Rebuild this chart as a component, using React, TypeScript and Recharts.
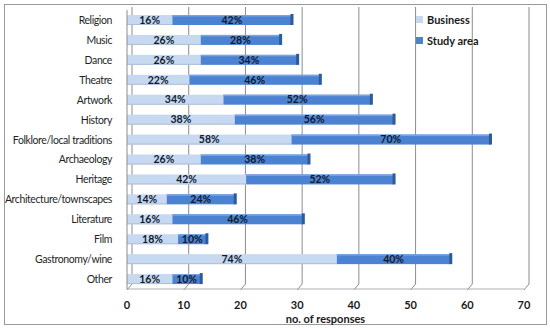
import React from 'react';
import { BarChart, Bar, XAxis, YAxis, CartesianGrid, LabelList } from 'recharts';

const categories = [
  'Religion',
  'Music',
  'Dance',
  'Theatre',
  'Artwork',
  'History',
  'Folklore/local traditions',
  'Archaeology',
  'Heritage',
  'Architecture/townscapes',
  'Literature',
  'Film',
  'Gastronomy/wine',
  'Other'
];
const businessCounts = [8, 13, 13, 11, 17, 19, 29, 13, 21, 7, 8, 9, 37, 8];
const studyAreaCounts = [21, 14, 17, 23, 26, 28, 35, 19, 26, 12, 23, 5, 20, 5];
const businessPct = [16, 26, 26, 22, 34, 38, 58, 26, 42, 14, 16, 18, 74, 16];
const studyAreaPct = [42, 28, 34, 46, 52, 56, 70, 38, 52, 24, 46, 10, 40, 10];
const xTicks = [0, 10, 20, 30, 40, 50, 60, 70];
const seriesNames = ['Business', 'Study area'];

const LIGHT = '#c6d9f1';
const DARK = '#4c82d2';
const FONT = 'Lato, "Open Sans", sans-serif';

const data = categories.map((name, i) => ({
  name,
  business: businessCounts[i],
  studyArea: studyAreaCounts[i],
  businessPct: businessPct[i],
  studyAreaPct: studyAreaPct[i]
}));

// light segment with a faint shaded underside
const PlainBar = (props: any) => {
  const { x, y, width, height, fill } = props;
  return (
    <g>
      <rect x={x} y={y} width={width} height={height} fill={fill} />
      <rect x={x} y={y + height - 1} width={width} height={1} fill="#aebfd6" />
    </g>
  );
};

// bar with a darker end cap, mimics the 3d look of the original
const CappedBar = (props: any) => {
  const { x, y, width, height, fill } = props;
  return (
    <g>
      <rect x={x} y={y} width={width} height={height} fill={fill} />
      <rect x={x} y={y} width={width} height={1.5} fill="#7aa3e0" />
      <rect x={x + width - 1} y={y - 1} width={3} height={height + 1} fill="#2d5a99" />
    </g>
  );
};

// back-wall gridlines, shifted right and dropped diagonally to the front axis
const gridLine = (props: any) => {
  const { x1, y1, y2, key } = props;
  return (
    <path
      key={key}
      d={`M${x1 + 5},${y1 - 3} L${x1 + 5},${y2 - 5} L${x1},${y2 + 1}`}
      stroke="#8c8c8c"
      strokeWidth={1}
      fill="none"
    />
  );
};

const CategoryTick = (props: any) => {
  const { x, y, payload } = props;
  return (
    <text
      x={x}
      y={y}
      dy={4}
      textAnchor="end"
      fontFamily={FONT}
      fontSize={10.5}
      letterSpacing={-0.4}
      fill="#1f1f1f"
    >
      {payload.value}
    </text>
  );
};

const labelStyle = { fontFamily: FONT, fontSize: 10.5, fontWeight: 700, fill: '#0f1a2e' };

export default function App() {
  return (
    <div style={{ position: 'absolute', left: 0, top: 0, width: 550, height: 328, background: '#fff' }}>
      <div
        style={{
          position: 'absolute',
          left: 4,
          top: 4,
          width: 541,
          height: 319,
          border: '1px solid #9a9a9a'
        }}
      />
      <div style={{ position: 'absolute', left: 0, top: 0 }}>
        <BarChart
          width={550}
          height={328}
          layout="vertical"
          data={data}
          margin={{ top: 10, right: 26, bottom: 0, left: 0 }}
          barSize={10}
        >
          <CartesianGrid horizontal={false} vertical={gridLine} />
          <XAxis
            type="number"
            domain={[0, 70]}
            ticks={xTicks}
            height={39}
            axisLine={{ stroke: '#b0b0b0' }}
            tickLine={false}
            tick={{ fontFamily: FONT, fontSize: 11, fontWeight: 700, fill: '#1a1a1a' }}
            tickMargin={6}
            label={{
              value: 'no. of responses',
              position: 'insideBottom',
              offset: 5,
              style: { fontFamily: FONT, fontSize: 11, fontWeight: 700, fill: '#1a1a1a' }
            }}
          />
          <YAxis
            type="category"
            dataKey="name"
            width={127}
            axisLine={{ stroke: '#8c8c8c' }}
            tickLine={false}
            interval={0}
            tickMargin={9}
            tick={CategoryTick}
          />
          <Bar
            dataKey="business"
            name={seriesNames[0]}
            stackId="a"
            fill={LIGHT}
            shape={PlainBar}
            isAnimationActive={false}
          >
            <LabelList
              dataKey="businessPct"
              position="center"
              formatter={(v: any) => `${v}%`}
              style={labelStyle}
            />
          </Bar>
          <Bar
            dataKey="studyArea"
            name={seriesNames[1]}
            stackId="a"
            fill={DARK}
            shape={CappedBar}
            isAnimationActive={false}
          >
            <LabelList
              dataKey="studyAreaPct"
              position="center"
              formatter={(v: any) => `${v}%`}
              style={labelStyle}
            />
          </Bar>
        </BarChart>
      </div>
      {/* legend kept outside the chart so it does not shrink the plot */}
      <div
        style={{
          position: 'absolute',
          left: 416,
          top: 9,
          fontFamily: FONT,
          fontSize: 11,
          fontWeight: 700,
          color: '#1a1a1a'
        }}
      >
        {seriesNames.map((label, i) => (
          <div key={label} style={{ display: 'flex', alignItems: 'center', height: 21 }}>
            <span
              style={{
                width: 7,
                height: 7,
                background: i === 0 ? LIGHT : DARK,
                marginRight: 4,
                display: 'inline-block'
              }}
            />
            {label}
          </div>
        ))}
      </div>
    </div>
  );
}
